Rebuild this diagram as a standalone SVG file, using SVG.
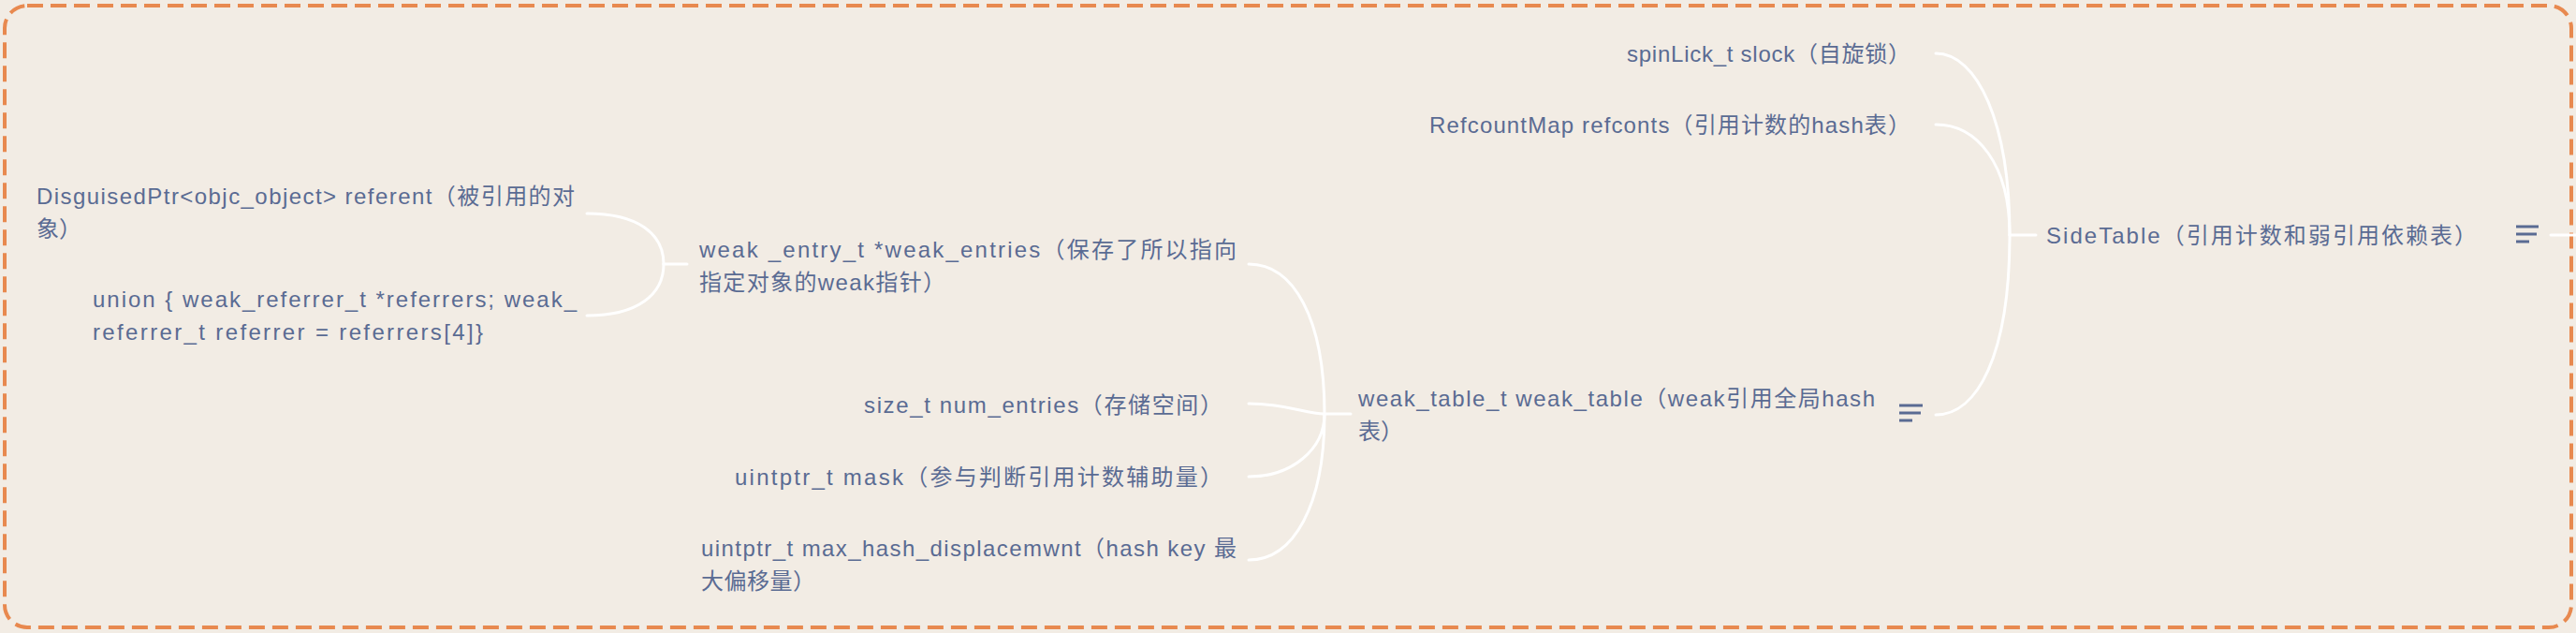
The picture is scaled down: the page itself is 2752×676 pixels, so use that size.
<svg xmlns="http://www.w3.org/2000/svg" width="2752" height="676" viewBox="0 0 2752 676">
<style>
.t{font-family:"Liberation Sans","Noto Sans CJK SC",sans-serif;font-size:24px;fill:#5a6b93}
.c{fill:none;stroke:#ffffff;stroke-width:3;stroke-linecap:round}
.i{stroke:#5a6b93;stroke-width:3;stroke-linecap:butt}
</style>
<rect x="0" y="0" width="2752" height="676" fill="#f2ece4"/>
<rect id="frame" x="5" y="6" width="2742" height="664" rx="24" fill="none" stroke="#e8894f" stroke-width="4" stroke-dasharray="17 8"/>
<g id="connectors">
<path class="c" d="M2175,251 L2147,251"/>
<path class="c" d="M2068,57 C2112,57 2147,130 2147,251"/>
<path class="c" d="M2068,133 C2112,133 2147,175 2147,251"/>
<path class="c" d="M2068,443 C2112,443 2147,380 2147,251"/>
<path class="c" d="M2725,251 L2752,251"/>
<path class="c" d="M1443,442 L1415,442"/>
<path class="c" d="M1334,282 C1382,282 1415,340 1415,442"/>
<path class="c" d="M1334,431 C1375,431 1395,442 1415,442"/>
<path class="c" d="M1334,509 C1380,509 1415,480 1415,442"/>
<path class="c" d="M1334,598 C1382,598 1415,540 1415,442"/>
<path class="c" d="M734,282 L709,282"/>
<path class="c" d="M627,228 C682,228 709,250 709,282"/>
<path class="c" d="M627,337 C682,337 709,314 709,282"/>
</g>
<g id="sidetable">
<text class="t" x="2186" y="260" textLength="460" lengthAdjust="spacing">SideTable（引用计数和弱引用依赖表）</text>
<line class="i" x1="2688" y1="242" x2="2712" y2="242"/>
<line class="i" x1="2688" y1="250" x2="2710" y2="250"/>
<line class="i" x1="2688" y1="258" x2="2702" y2="258"/>
</g>
<g id="slock">
<text class="t" x="1738" y="66" textLength="303" lengthAdjust="spacing">spinLick_t slock（自旋锁）</text>
</g>
<g id="refcnts">
<text class="t" x="1527" y="142" textLength="514" lengthAdjust="spacing">RefcountMap refconts（引用计数的hash表）</text>
</g>
<g id="weak_table">
<text class="t" x="1451" y="434" textLength="552" lengthAdjust="spacing">weak_table_t weak_table（weak引用全局hash</text>
<text class="t" x="1451" y="469">表）</text>
<line class="i" x1="2029" y1="433" x2="2054" y2="433"/>
<line class="i" x1="2029" y1="441" x2="2052" y2="441"/>
<line class="i" x1="2029" y1="449" x2="2043" y2="449"/>
</g>
<g id="weak_entries">
<text class="t" x="747" y="275" textLength="574" lengthAdjust="spacing">weak _entry_t *weak_entries（保存了所以指向</text>
<text class="t" x="747" y="310" textLength="263" lengthAdjust="spacing">指定对象的weak指针）</text>
</g>
<g id="num_entries">
<text class="t" x="923" y="441" textLength="383" lengthAdjust="spacing">size_t num_entries（存储空间）</text>
</g>
<g id="mask">
<text class="t" x="785" y="518" textLength="521" lengthAdjust="spacing">uintptr_t mask（参与判断引用计数辅助量）</text>
</g>
<g id="max_hash">
<text class="t" x="749" y="594" textLength="572" lengthAdjust="spacing">uintptr_t max_hash_displacemwnt（hash key 最</text>
<text class="t" x="749" y="629" textLength="122" lengthAdjust="spacing">大偏移量）</text>
</g>
<g id="referent">
<text class="t" x="39" y="218" textLength="575" lengthAdjust="spacing">DisguisedPtr&lt;objc_object&gt; referent（被引用的对</text>
<text class="t" x="39" y="253">象）</text>
</g>
<g id="referrers">
<text class="t" x="99" y="328" textLength="517" lengthAdjust="spacing">union { weak_referrer_t *referrers;  weak_</text>
<text class="t" x="99" y="363" textLength="417" lengthAdjust="spacing">referrer_t referrer = referrers[4]}</text>
</g>
</svg>
